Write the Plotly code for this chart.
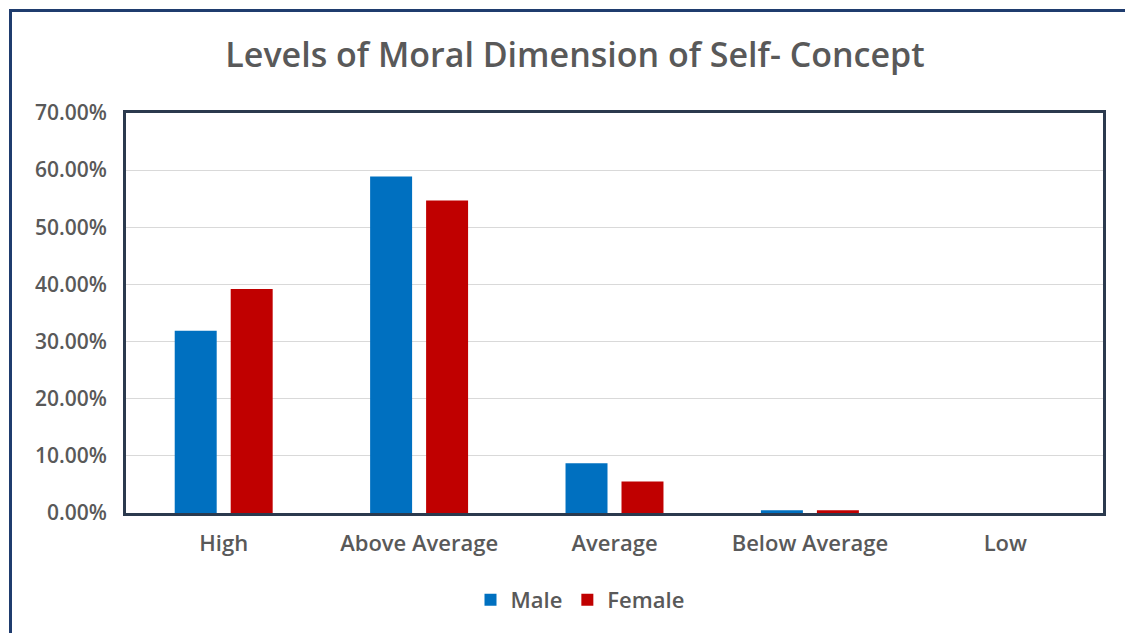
import plotly.graph_objects as go

# Share of respondents at each level of the moral dimension of self-concept
levels = ["High", "Above Average", "Average", "Below Average", "Low"]
male = [0.319, 0.589, 0.087, 0.005, 0.0]
female = [0.392, 0.547, 0.055, 0.005, 0.0]
y_ticks = [0, 0.1, 0.2, 0.3, 0.4, 0.5, 0.6, 0.7]

W, H = 1125, 633
L, R, T, B = 126, 22, 113, 120
pw, ph = W - L - R, H - T - B

def px_x(x):
    return (x - L) / pw

def px_y(y):
    return (H - B - y) / ph

text_grey = "#595959"
font_family = "'Open Sans', Lato, sans-serif"

fig = go.Figure()
fig.add_trace(go.Bar(name="Male", x=levels, y=male, marker=dict(color="#0070C0", line=dict(width=0))))
fig.add_trace(go.Bar(name="Female", x=levels, y=female, marker=dict(color="#C00000", line=dict(width=0))))

fig.update_layout(
    width=W,
    height=H,
    margin=dict(l=L, r=R, t=T, b=B, pad=0),
    paper_bgcolor="white",
    plot_bgcolor="white",
    barmode="group",
    bargap=0.427,
    bargroupgap=0.25,
    title=dict(
        text="Levels of Moral Dimension of Self- Concept",
        x=575 / W,
        xanchor="center",
        y=1 - 55 / H,
        yanchor="middle",
        font=dict(family=font_family, size=34, color=text_grey, weight=600),
    ),
    font=dict(family=font_family, color=text_grey),
    legend=dict(
        orientation="h",
        x=px_x(580),
        xanchor="center",
        y=px_y(600),
        yanchor="middle",
        font=dict(family=font_family, size=22, color=text_grey, weight=600),
        itemwidth=30,
        bgcolor="rgba(0,0,0,0)",
    ),
    showlegend=True,
)

fig.update_xaxes(
    showline=True,
    linecolor="#2B3A4E",
    linewidth=3,
    mirror=True,
    ticks="",
    tickfont=dict(family=font_family, size=22, color=text_grey, weight=600),
    ticklabelstandoff=9,
)
fig.update_yaxes(
    range=[0, 0.7],
    tickvals=y_ticks,
    tickformat=".2%",
    showgrid=True,
    gridcolor="#D9D9D9",
    gridwidth=1,
    showline=True,
    linecolor="#2B3A4E",
    linewidth=3,
    mirror=True,
    zeroline=False,
    ticks="",
    tickfont=dict(family=font_family, size=21, color=text_grey, weight=600),
    ticklabelstandoff=12,
)

# Outer frame of the chart area (top and left edges)
frame = "#1F3C6E"
fig.add_shape(type="line", xref="paper", yref="paper",
              x0=px_x(9), x1=px_x(W + 5), y0=px_y(10.5), y1=px_y(10.5),
              line=dict(color=frame, width=3))
fig.add_shape(type="line", xref="paper", yref="paper",
              x0=px_x(10.5), x1=px_x(10.5), y0=px_y(9), y1=px_y(H + 5),
              line=dict(color=frame, width=3))

fig.write_html("out.html")
